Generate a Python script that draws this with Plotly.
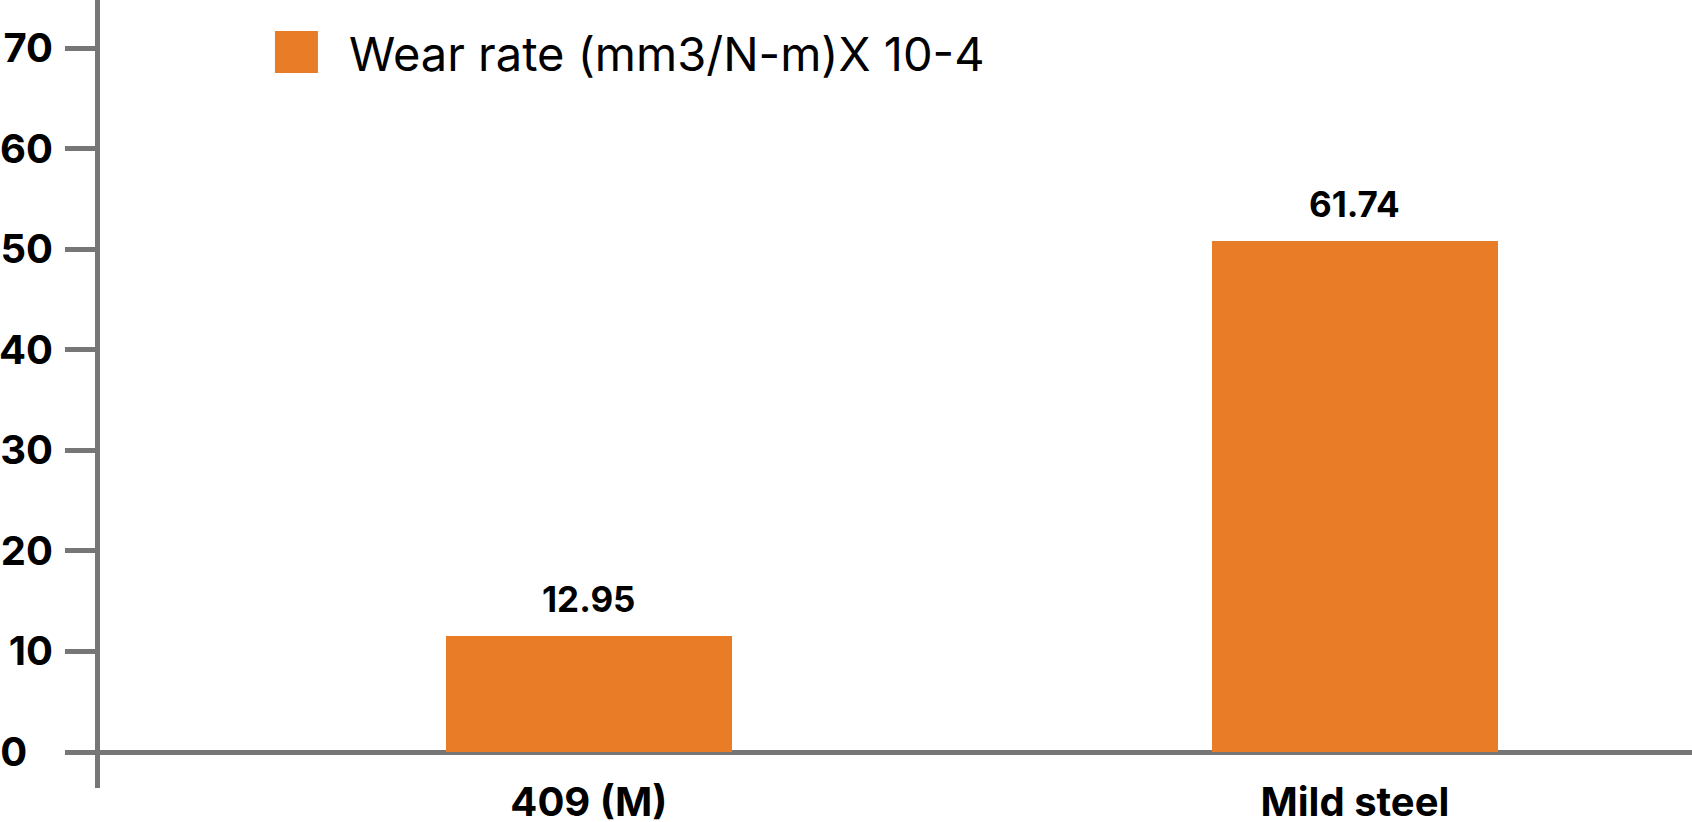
import plotly.graph_objects as go

# categories and values
materials = ["409 (M)", "Mild steel"]
bar_heights = [11.5, 50.8]          # bar tops as drawn on the axis
value_labels = ["12.95", "61.74"]   # numbers printed above the bars
series_name = "Wear rate (mm3/N-m)X 10-4"
y_ticks = [0, 10, 20, 30, 40, 50, 60, 70]
# labels are left aligned in the original, so pad the single digit with a figure space
y_tick_text = ["0\u2007", "10", "20", "30", "40", "50", "60", "70"]

orange = "#E97D27"
grey = "#767676"
font_family = "Inter"

fig = go.Figure()

fig.add_trace(go.Bar(
    x=materials,
    y=bar_heights,
    name=series_name,
    marker=dict(color=orange, line=dict(width=0)),
    width=0.373,
    showlegend=False,
))

# value labels above each bar
for cat, h, lab in zip(materials, bar_heights, value_labels):
    fig.add_annotation(
        x=cat, y=h, xref="x", yref="y",
        text=lab, showarrow=False,
        yanchor="bottom", yshift=14,
        font=dict(family=font_family, size=35, color="black", weight="bold"),
    )

# hand made legend (plotly's bar legend swatch is too small)
fig.add_shape(
    type="rect", xref="paper", yref="paper",
    x0=0.1099, x1=0.1369, y0=0.9074, y1=0.9607,
    fillcolor=orange, line=dict(width=0),
)
fig.add_annotation(
    x=0.1551, y=0.9327, xref="paper", yref="paper",
    text=series_name, showarrow=False,
    xanchor="left", yanchor="middle",
    font=dict(family=font_family, size=47, color="black"),
)

fig.update_layout(
    width=1692,
    height=822,
    margin=dict(l=100, r=0, t=0, b=34),
    plot_bgcolor="white",
    paper_bgcolor="white",
    font=dict(family=font_family, color="black"),
    bargap=0,
)

fig.update_xaxes(
    range=[-0.638, 1.44],
    automargin=False,
    showgrid=False,
    showline=False,
    ticks="",
    tickfont=dict(family=font_family, size=40, color="black", weight="bold"),
    ticklabelstandoff=-13,
)

fig.update_yaxes(
    range=[-3.58, 74.8],
    automargin=False,
    tickvals=y_ticks,
    ticktext=y_tick_text,
    showgrid=False,
    showline=True,
    linecolor=grey,
    linewidth=5,
    zeroline=True,
    zerolinecolor=grey,
    zerolinewidth=5,
    ticks="outside",
    ticklen=30,
    tickwidth=5,
    tickcolor=grey,
    ticklabelstandoff=4,
    tickfont=dict(family=font_family, size=40, color="black", weight="bold"),
)

# drop the browser's default 8px body margin so the chart sits at the corner
fig.write_html(
    "out.html",
    config={"displayModeBar": False},
    post_script="document.body.style.margin = '0';",
)
